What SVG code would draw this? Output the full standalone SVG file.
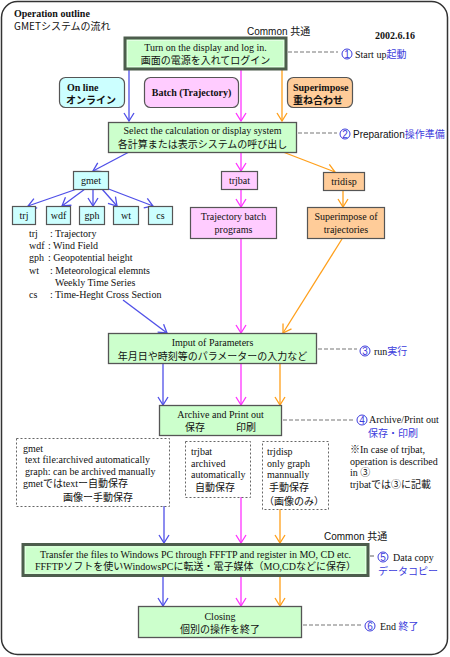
<svg xmlns="http://www.w3.org/2000/svg" width="450" height="657" viewBox="0 0 450 657">
<style>
.frame{fill:#fff;stroke:#333;stroke-width:1.5}
.en{font-family:"Liberation Serif","Noto Sans CJK JP",serif;font-size:10px;fill:#111}
.jp{font-family:"Noto Sans CJK JP",sans-serif;font-size:10px;fill:#111}
.ss{font-family:"Liberation Sans","Noto Sans CJK JP",sans-serif;font-size:10px;fill:#111}
.b{font-weight:bold}
.blue{fill:#3c3cdc}
.mid{text-anchor:middle}
.gbox{fill:#ccffcc;stroke:#555;stroke-width:1.3}
.gbox2{fill:#ccffcc;stroke:#4d5d4d;stroke-width:3}
.inner{fill:none;stroke:#e8ffe8;stroke-width:0.8}
.cy{fill:#ccffff;stroke:#555;stroke-width:1.2}
.pk{fill:#ffccff;stroke:#555;stroke-width:1.2}
.or{fill:#ffcc99;stroke:#555;stroke-width:1.2}
.dbox{fill:none;stroke:#666;stroke-width:1;stroke-dasharray:2,2}
.dash{stroke:#777;stroke-width:1.2;stroke-dasharray:4,2;fill:none}
.cb{fill:none;stroke:#4f4fe8;stroke-width:1.3;marker-end:url(#ab)}
.cm{fill:none;stroke:#ff33ff;stroke-width:1.3;marker-end:url(#am)}
.co{fill:none;stroke:#ff9f1a;stroke-width:1.3;marker-end:url(#ao)}
.circ{fill:none;stroke:#3c3cdc;stroke-width:1}
</style>
<defs>
<marker id="ab" markerUnits="userSpaceOnUse" markerWidth="14" markerHeight="14" refX="10" refY="5" orient="auto" overflow="visible"><path d="M2,0 L10,5 L2,10" fill="none" stroke="#4f4fe8" stroke-width="1.3"/></marker>
<marker id="am" markerUnits="userSpaceOnUse" markerWidth="14" markerHeight="14" refX="10" refY="5" orient="auto" overflow="visible"><path d="M2,0 L10,5 L2,10" fill="none" stroke="#ff33ff" stroke-width="1.3"/></marker>
<marker id="ao" markerUnits="userSpaceOnUse" markerWidth="14" markerHeight="14" refX="10" refY="5" orient="auto" overflow="visible"><path d="M2,0 L10,5 L2,10" fill="none" stroke="#ff9f1a" stroke-width="1.3"/></marker>
</defs>

<rect class="frame" x="1.5" y="1.5" width="446" height="653" rx="16"/>

<g id="title">
<text class="en b" x="14" y="17">Operation outline</text>
<text class="jp" x="14" y="30">GMETシステムの流れ</text>
<text class="ss" x="247" y="35">Common 共通</text>
<text class="en b" x="375" y="39">2002.6.16</text>
</g>

<g id="connectors">
<path class="cb" d="M129,69 V121"/>
<path class="cm" d="M241,69 V121"/>
<path class="co" d="M282,69 V121"/>
<path class="cb" d="M129,152 L93,171"/>
<path class="cm" d="M241,152 V171"/>
<path class="co" d="M283,152 L335,172"/>
<path class="cb" d="M77,189 L28,206"/>
<path class="cb" d="M85,189 L62,206"/>
<path class="cb" d="M93,189 V206"/>
<path class="cb" d="M102,189 L117,206"/>
<path class="cb" d="M106,188 L153,206"/>
<path class="cm" d="M241,189 V207"/>
<path class="co" d="M343,190 V207"/>
<path class="cb" d="M123,300 L167,333"/>
<path class="cm" d="M241,238 V333"/>
<path class="co" d="M342,239 L283,333"/>
<path class="cb" d="M163,363 V405"/>
<path class="cm" d="M241,363 V405"/>
<path class="co" d="M280,363 V405"/>
<path class="cb" d="M164,506 V543"/>
<path class="cm" d="M241,497 V543"/>
<path class="co" d="M280,509 V543"/>
<path class="cb" d="M163,576 V606"/>
<path class="cm" d="M241,576 V606"/>
<path class="co" d="M280,576 V606"/>
<path class="dash" d="M288,52 H338"/>
<path class="dash" d="M298,133 H337"/>
<path class="dash" d="M318,349 H357"/>
<path class="dash" d="M283,420 H353"/>
<path class="dash" d="M370,556 H376"/>
<path class="dash" d="M303,625 H363"/>
</g>

<g id="startup">
<rect class="gbox2" x="125" y="38" width="161" height="31"/>
<rect class="inner" x="127.5" y="40.5" width="156" height="26"/>
<text class="en mid" x="205.5" y="51">Turn on the display and log in.</text>
<text class="jp mid" x="205.5" y="64">画面の電源を入れてログイン</text>
</g>
<g id="step1">
<circle class="circ" cx="347" cy="54" r="5"/>
<text class="ss blue" x="347" y="57.5" text-anchor="middle" font-size="8">1</text>
<text class="en" x="355" y="58">Start up<tspan class="jp blue">起動</tspan></text>
</g>

<g id="online">
<rect class="cy" x="59.5" y="77.5" width="65" height="30" rx="6"/>
<text class="en b" x="67" y="91">On line</text>
<text class="jp b" x="66" y="104">オンライン</text>
</g>
<g id="batch">
<rect class="pk" x="144.5" y="77.5" width="94" height="30" rx="6"/>
<text class="en b mid" x="191.5" y="96">Batch (Trajectory)</text>
</g>
<g id="superimpose">
<rect class="or" x="287.5" y="77.5" width="65" height="30" rx="6"/>
<text class="en b" x="293" y="91">Superimpose</text>
<text class="jp b" x="293" y="104">重ね合わせ</text>
</g>

<g id="select">
<rect class="gbox" x="108.5" y="122.5" width="188" height="30"/>
<text class="en mid" x="202.5" y="134">Select the calculation  or display system</text>
<text class="jp mid" x="202.5" y="148">各計算または表示システムの呼び出し</text>
</g>
<g id="step2">
<circle class="circ" cx="345" cy="134" r="5"/>
<text class="ss blue" x="345" y="137.5" text-anchor="middle" font-size="8">2</text>
<text class="ss" x="353" y="138">Preparation<tspan class="jp blue">操作準備</tspan></text>
</g>

<g id="gmet">
<rect class="cy" x="73.5" y="171.5" width="35" height="18"/>
<text class="en mid" x="91" y="184">gmet</text>
</g>
<g id="trjbat">
<rect class="pk" x="221.5" y="171.5" width="36" height="18"/>
<text class="en mid" x="239.5" y="184">trjbat</text>
</g>
<g id="tridisp">
<rect class="or" x="323.5" y="172.5" width="41" height="18"/>
<text class="en mid" x="344" y="185">tridisp</text>
</g>

<g id="trj"><rect class="cy" x="12.5" y="206.5" width="23" height="18"/><text class="en mid" x="24" y="219">trj</text></g>
<g id="wdf"><rect class="cy" x="46.5" y="206.5" width="24" height="18"/><text class="en mid" x="58.5" y="219">wdf</text></g>
<g id="gph"><rect class="cy" x="79.5" y="206.5" width="25" height="18"/><text class="en mid" x="92" y="219">gph</text></g>
<g id="wt"><rect class="cy" x="113.5" y="206.5" width="25" height="18"/><text class="en mid" x="126" y="219">wt</text></g>
<g id="cs"><rect class="cy" x="148.5" y="206.5" width="24" height="18"/><text class="en mid" x="160.5" y="219">cs</text></g>

<g id="trajbatch">
<rect class="pk" x="190.5" y="207.5" width="86" height="31"/>
<text class="en mid" x="233.5" y="220">Trajectory batch</text>
<text class="en mid" x="233.5" y="233">programs</text>
</g>
<g id="superimposetraj">
<rect class="or" x="307.5" y="207.5" width="77" height="31"/>
<text class="en mid" x="346" y="220">Superimpose of</text>
<text class="en mid" x="346" y="233">trajectories</text>
</g>

<g id="legend">
<text class="en" x="29" y="237">trj</text><text class="en" x="50" y="237">: Trajectory</text>
<text class="en" x="29" y="249">wdf</text><text class="en" x="48" y="249">: Wind Field</text>
<text class="en" x="29" y="261">gph</text><text class="en" x="48" y="261">: Geopotential height</text>
<text class="en" x="29" y="274">wt</text><text class="en" x="50" y="274">: Meteorological elemnts</text>
<text class="en" x="55" y="286">Weekly Time Series</text>
<text class="en" x="29" y="298">cs</text><text class="en" x="50" y="298">: Time-Heght Cross Section</text>
</g>

<g id="imput">
<rect class="gbox" x="108.5" y="333.5" width="208" height="30"/>
<text class="en mid" x="212.5" y="346">Imput of Parameters</text>
<text class="jp mid" x="212.5" y="360">年月日や時刻等のパラメーターの入力など</text>
</g>
<g id="step3">
<circle class="circ" cx="365" cy="351" r="5"/>
<text class="ss blue" x="365" y="354.5" text-anchor="middle" font-size="8">3</text>
<text class="en" x="374" y="355">run<tspan class="jp blue">実行</tspan></text>
</g>

<g id="archive">
<rect class="gbox" x="159.5" y="405.5" width="122" height="30"/>
<text class="en mid" x="220.5" y="418">Archive and Print out</text>
<text class="jp" x="185" y="431">保存</text>
<text class="jp" x="236" y="431">印刷</text>
</g>
<g id="step4">
<circle class="circ" cx="362" cy="420" r="5"/>
<text class="ss blue" x="362" y="423.5" text-anchor="middle" font-size="8">4</text>
<text class="en" x="369" y="423">Archive/Print out</text>
<text class="jp blue" x="368" y="437">保存・印刷</text>
</g>

<g id="note">
<text class="en" x="350" y="453">※In case of trjbat,</text>
<text class="en" x="350" y="465">operation is described</text>
<text class="en" x="350" y="476">in ③</text>
<text class="en" x="350" y="488">trjbatでは③に記載</text>
</g>

<g id="gmetnote">
<rect class="dbox" x="16.5" y="438.5" width="153" height="68"/>
<text class="en" x="23" y="452">gmet</text>
<text class="en" x="25" y="463">text file:archived automatically</text>
<text class="en" x="25" y="475">graph: can be archived manually</text>
<text class="en" x="23" y="487">gmetではtextー自動保存</text>
<text class="jp" x="63" y="501">画像ー手動保存</text>
</g>
<g id="trjbatnote">
<rect class="dbox" x="185.5" y="441.5" width="65" height="56"/>
<text class="en" x="191" y="455">trjbat</text>
<text class="en" x="191" y="467">archived</text>
<text class="en" x="191" y="478">automatically</text>
<text class="jp" x="195" y="491">自動保存</text>
</g>
<g id="trjdispnote">
<rect class="dbox" x="262.5" y="441.5" width="66" height="68"/>
<text class="en" x="267" y="455">trjdisp</text>
<text class="en" x="267" y="467">only graph</text>
<text class="en" x="267" y="478">mannually</text>
<text class="jp" x="269" y="491">手動保存</text>
<text class="jp" x="264" y="505">（画像のみ）</text>
</g>

<g id="common2">
<text class="ss" x="324" y="540">Common 共通</text>
</g>

<g id="transfer">
<rect class="gbox2" x="23" y="544.5" width="345" height="31"/>
<rect class="inner" x="25.5" y="547" width="340" height="26"/>
<text class="en mid" x="195.5" y="558">Transfer the files to Windows PC through FFFTP and register in MO, CD etc.</text>
<text class="en mid" x="195.5" y="570">FFFTPソフトを使いWindowsPCに転送・電子媒体（MO,CDなどに保存）</text>
</g>
<g id="step5">
<circle class="circ" cx="383" cy="557" r="5"/>
<text class="ss blue" x="383" y="560.5" text-anchor="middle" font-size="8">5</text>
<text class="en" x="393" y="561">Data copy</text>
<text class="jp blue" x="378" y="575">データコピー</text>
</g>

<g id="closing">
<rect class="gbox" x="138.5" y="606.5" width="163" height="31"/>
<text class="en mid" x="220" y="620">Closing</text>
<text class="jp mid" x="220" y="633">個別の操作を終了</text>
</g>
<g id="step6">
<circle class="circ" cx="370" cy="626" r="5"/>
<text class="ss blue" x="370" y="629.5" text-anchor="middle" font-size="8">6</text>
<text class="en" x="380" y="630">End <tspan class="jp blue">終了</tspan></text>
</g>
</svg>
